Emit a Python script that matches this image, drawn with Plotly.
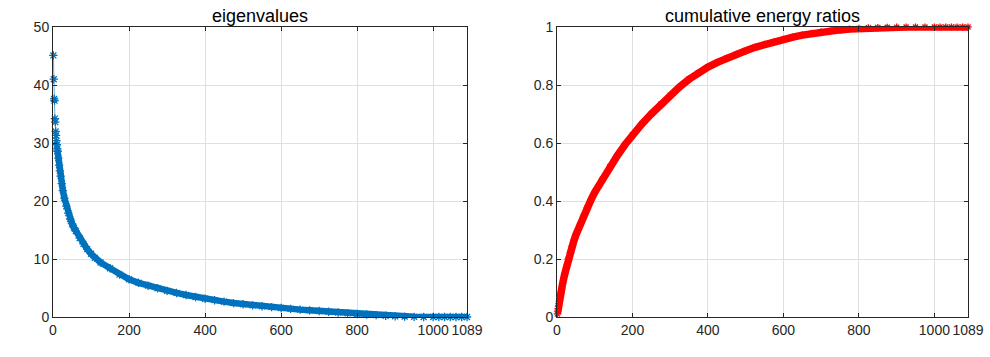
import plotly.graph_objects as go

# eigenvalues (index, value)
eig_idx = [1, 2, 3, 4, 5, 6, 7, 8, 9, 10, 11, 12, 14, 16, 18, 20, 23, 26, 30, 35,
           40, 45, 50, 55, 60, 70, 80, 90, 100, 110, 125, 150, 175, 200, 225, 250,
           275, 300, 325, 350, 375, 400, 425, 450, 475, 500, 525, 550, 575, 600,
           625, 650, 675, 700, 725, 750, 775, 800, 825, 850, 875, 900, 925, 950,
           975, 1000, 1015, 1030, 1045, 1060, 1075, 1089]
eig_val = [45.1, 41.0, 37.6, 37.3, 34.2, 33.6, 32.0, 31.3, 30.4, 29.7, 29.0, 28.6,
           27.4, 26.2, 25.2, 24.3, 23.0, 21.8, 20.5, 19.1, 17.9, 16.9, 16.1, 15.4,
           14.8, 13.6, 12.6, 11.7, 10.9, 10.2, 9.4, 8.4, 7.3, 6.5, 5.9, 5.4, 4.95,
           4.5, 4.15, 3.8, 3.45, 3.15, 2.9, 2.65, 2.4, 2.2, 2.0, 1.85, 1.7, 1.55,
           1.4, 1.27, 1.15, 1.03, 0.9, 0.78, 0.65, 0.52, 0.42, 0.32, 0.22, 0.13,
           0.07, 0.03, 0.01, 0.0, 0.0, 0.0, 0.0, 0.0, 0.0, 0.0]

# cumulative energy ratios
cum_idx = [1, 2, 3, 4, 5, 6, 7, 8, 10, 12, 15, 20, 25, 30, 35, 40, 45, 50, 60, 70,
           80, 90, 100, 120, 140, 160, 180, 200, 225, 250, 275, 300, 325, 350, 375,
           400, 425, 450, 475, 500, 525, 550, 575, 600, 625, 650, 675, 700, 725,
           750, 775, 800, 825, 850, 875, 900, 925, 950, 975, 1000, 1015, 1030,
           1045, 1060, 1075, 1089]
cum_val = [0.0106, 0.0203, 0.0291, 0.0379, 0.0459, 0.0538, 0.0613, 0.0687, 0.083,
           0.0965, 0.116, 0.146, 0.174, 0.200, 0.223, 0.244, 0.264, 0.283, 0.316,
           0.348, 0.377, 0.404, 0.43, 0.475, 0.518, 0.557, 0.594, 0.628, 0.666,
           0.70, 0.734, 0.765, 0.794, 0.82, 0.842, 0.862, 0.878, 0.893, 0.906,
           0.918, 0.93, 0.94, 0.949, 0.957, 0.965, 0.972, 0.978, 0.983, 0.987,
           0.99, 0.993, 0.995, 0.997, 0.998, 0.999, 0.9995, 1.0, 1.0, 1.0, 1.0,
           1.0, 1.0, 1.0, 1.0, 1.0, 1.0]

xticks = [0, 200, 400, 600, 800, 1000, 1089]
eig_yticks = [0, 10, 20, 30, 40, 50]
cum_yticks = [0, 0.2, 0.4, 0.6, 0.8, 1]

BLUE = '#0072BD'
RED = '#FF0000'
AX = '#262626'
FONT = 'Liberation Sans, Arial, Helvetica, sans-serif'
split = 12  # first few eigenvalues show as separate stars
star = lambda c: dict(symbol='asterisk-open', size=7, color=c, line=dict(color=c, width=1.3))

fig = go.Figure()
# left: sparse head with thin line, dense tail as thick band of stars
fig.add_trace(go.Scatter(x=eig_idx[:split], y=eig_val[:split], mode='lines+markers',
    line=dict(color=BLUE, width=0.6), marker=star(BLUE),
    cliponaxis=False, showlegend=False, xaxis='x', yaxis='y'))
fig.add_trace(go.Scatter(x=eig_idx[split - 1:], y=eig_val[split - 1:], mode='lines+markers',
    line=dict(color=BLUE, width=6.5), marker=star(BLUE),
    cliponaxis=False, showlegend=False, xaxis='x', yaxis='y'))
fig.add_trace(go.Scatter(x=cum_idx, y=cum_val, mode='lines+markers',
    line=dict(color=RED, width=7.5),
    marker=dict(symbol='asterisk-open', size=6, color=RED, line=dict(color=RED, width=1.3)),
    cliponaxis=False, showlegend=False, xaxis='x2', yaxis='y2'))

W, H = 990, 357
def dom_x(a, b): return [a / W, b / W]
ydom = [(H - 317) / H, (H - 27) / H]

axis_common = dict(showline=True, linecolor=AX, linewidth=1, mirror='ticks',
    ticks='inside', ticklen=4, tickcolor=AX, showgrid=True, gridcolor='#dfdfdf',
    gridwidth=1, zeroline=False, automargin=False, tickangle=0,
    tickfont=dict(family=FONT, size=14, color=AX))

title_font = dict(family=FONT, size=18, color='black')
fig.update_layout(
    width=W, height=H, paper_bgcolor='white', plot_bgcolor='white',
    margin=dict(l=0, r=0, t=0, b=0),
    xaxis=dict(domain=dom_x(53, 467), range=[0, 1089], tickvals=xticks, anchor='y', **axis_common),
    yaxis=dict(domain=ydom, range=[0, 50], tickvals=eig_yticks, anchor='x', **axis_common),
    xaxis2=dict(domain=dom_x(557, 968), range=[0, 1089], tickvals=xticks, anchor='y2', **axis_common),
    yaxis2=dict(domain=ydom, range=[0, 1], tickvals=cum_yticks, anchor='x2', **axis_common),
    annotations=[
        dict(text='eigenvalues', xref='paper', yref='paper', x=sum(dom_x(53, 467)) / 2,
             xanchor='center', y=ydom[1], yanchor='bottom', yshift=0, borderpad=0,
             showarrow=False, font=title_font),
        dict(text='cumulative energy ratios', xref='paper', yref='paper',
             x=sum(dom_x(557, 968)) / 2, xanchor='center', y=ydom[1], yanchor='bottom',
             yshift=0, borderpad=0, showarrow=False, font=title_font),
    ])

# drop the default 8px page margin so the figure fills the window
fig.write_html("out.html", config={'displayModeBar': False},
               post_script="document.body.style.margin='0';")
